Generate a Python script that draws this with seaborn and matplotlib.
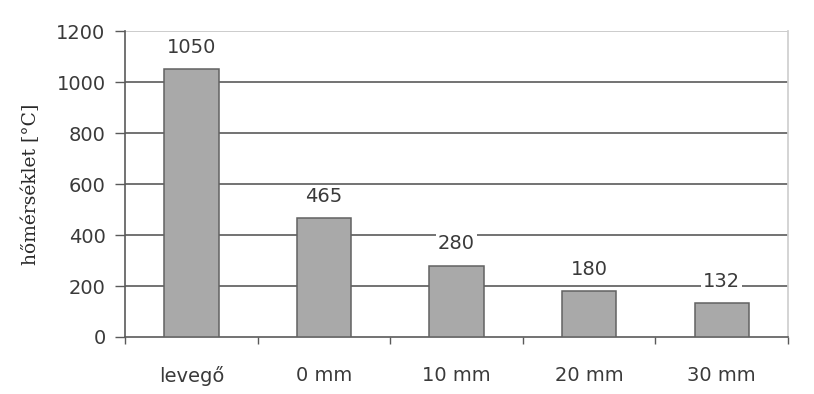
import matplotlib
matplotlib.use("Agg")
import matplotlib.pyplot as plt
import seaborn as sns
import pandas as pd
import numpy as np

categories = ["levegő", "0 mm", "10 mm", "20 mm", "30 mm"]
temperatures = [1050, 465, 280, 180, 132]
y_ticks = [0, 200, 400, 600, 800, 1000, 1200]

sns.set_theme(style="white")
plt.rcParams["font.family"] = ["DejaVu Sans"]

df = pd.DataFrame({"hely": categories, "homerseklet": temperatures})

fig = plt.figure(figsize=(8.14, 3.94), dpi=100)
ax = fig.add_axes([0.1536, 0.1447, 0.9681 - 0.1536, 0.921 - 0.1447])

sns.barplot(data=df, x="hely", y="homerseklet", order=categories,
            color="#a9a9a9", saturation=1, width=0.41,
            edgecolor="#626262", linewidth=1.1, ax=ax, zorder=3)

ax.set_xlim(-0.5, len(categories) - 0.5)
ax.set_ylim(0, 1200)
ax.set_yticks(y_ticks)
ax.set_yticklabels([str(v) for v in y_ticks], fontsize=14, color="#3a3a3a")

# horizontal gridlines
for v in y_ticks[1:]:
    ax.axhline(v, color="#c4c4c4" if v == 1200 else "#5a5a5a",
               linewidth=1.2, zorder=1)

# category labels centred, tick marks on category boundaries
ax.set_xticks(range(len(categories)))
ax.set_xticklabels(categories, fontsize=14, color="#3a3a3a")
ax.tick_params(axis="x", which="major", length=0, pad=21)
ax.set_xticks(np.arange(-0.5, len(categories), 1.0), minor=True)
ax.tick_params(axis="x", which="minor", length=5, width=1, color="#5a5a5a",
               direction="out", bottom=True)
ax.tick_params(axis="y", length=7, width=1, color="#5a5a5a",
               direction="out", left=True, pad=7)

ax.set_xlabel("")
ax.set_ylabel("hőmérséklet [°C]", family=["DejaVu Serif"],
              fontsize=13.5, color="#2a2a2a", labelpad=12)

for side in ["left", "bottom"]:
    ax.spines[side].set_color("#5a5a5a")
    ax.spines[side].set_linewidth(1.2)
ax.spines["right"].set_color("#cfcfcf")
ax.spines["top"].set_visible(False)

# value labels above bars
for i, v in enumerate(temperatures):
    ax.text(i, v + 48, str(v), ha="center", va="bottom", fontsize=14,
            color="#3a3a3a", zorder=4,
            bbox=dict(facecolor="white", edgecolor="none", pad=1.5))

fig.savefig("out.png", dpi=100, facecolor="white")
